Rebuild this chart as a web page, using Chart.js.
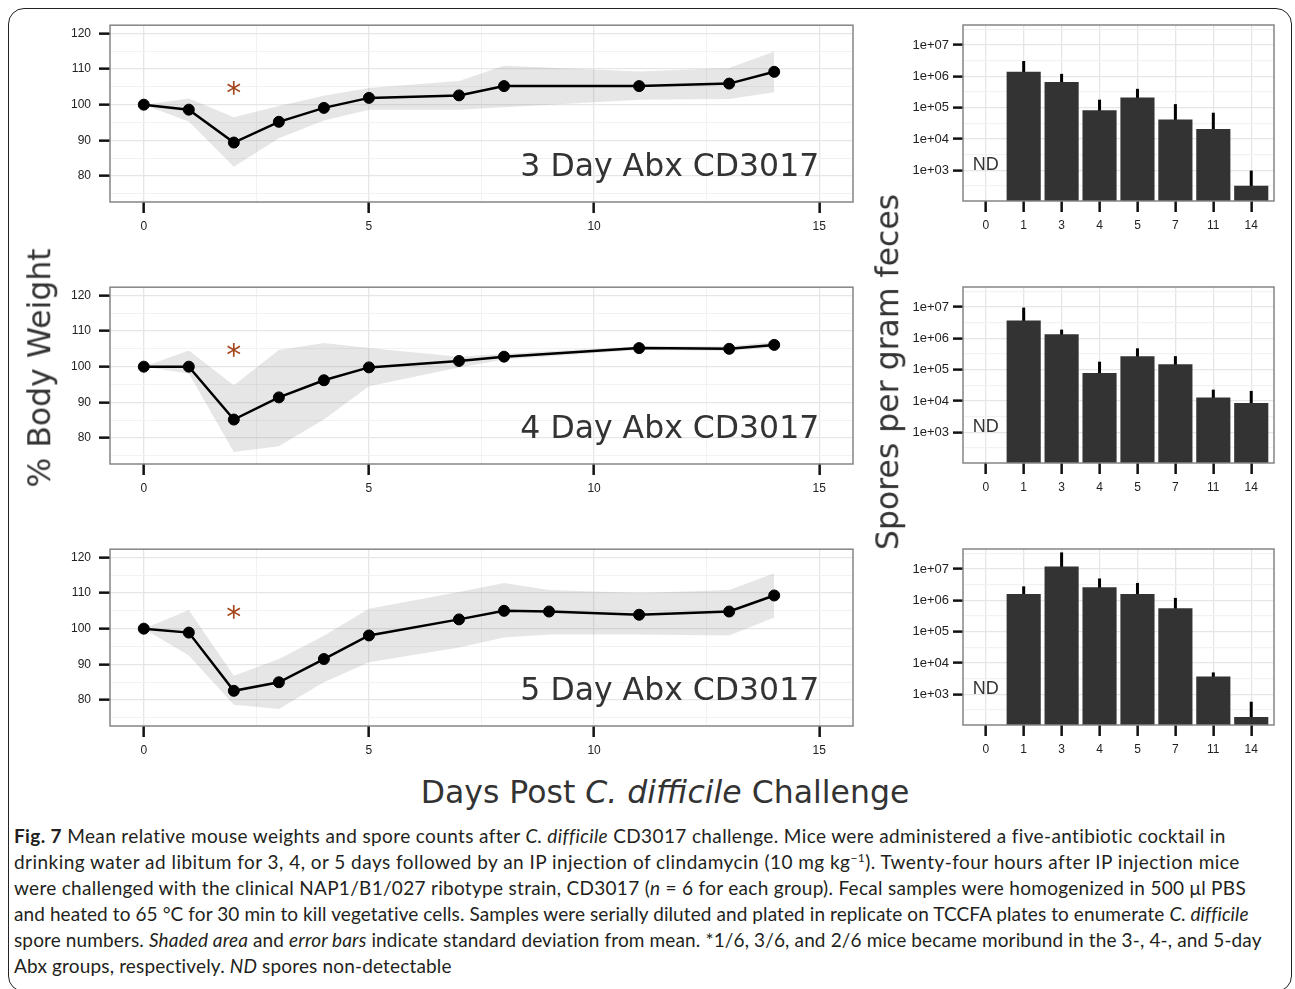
<!DOCTYPE html>
<html><head><meta charset="utf-8">
<script src="https://cdn.jsdelivr.net/npm/chart.js@4"></script>
<style>
html,body{margin:0;padding:0;background:#fff;}
body{width:1295px;height:989px;position:relative;overflow:hidden;}
#frame{position:absolute;left:8px;top:8px;width:1284px;height:984px;border:1.5px solid #222;border-radius:16px;box-sizing:border-box;}
canvas{position:absolute;}
.title{position:absolute;font-family:"DejaVu Sans";font-size:31.5px;color:#333;white-space:nowrap;line-height:1;}
.rot{transform:translate(-50%,-50%) rotate(-90deg);}
#caption{position:absolute;left:14px;top:823px;font-family:Lato;font-size:19px;line-height:26px;color:#231f20;}
#caption div{white-space:nowrap;display:table;}
#caption sup{font-size:12px;line-height:0;vertical-align:7px;}
</style>
</head><body>
<div id="frame"></div>
<canvas id="l3"></canvas><canvas id="l4"></canvas><canvas id="l5"></canvas>
<canvas id="b3"></canvas><canvas id="b4"></canvas><canvas id="b5"></canvas>
<div class="title rot" style="left:40px;top:368px;">% Body Weight</div>
<div class="title rot" style="left:888px;top:372px;">Spores per gram feces</div>
<div class="title" style="left:665px;top:793px;transform:translate(-50%,-50%);">Days Post <i>C. difficile</i> Challenge</div>
<div id="caption">
<div data-end="1225"><b>Fig. 7</b> Mean relative mouse weights and spore counts after <i>C. difficile</i> CD3017 challenge. Mice were administered a five-antibiotic cocktail in</div>
<div data-end="1240">drinking water ad libitum for 3, 4, or 5 days followed by an IP injection of clindamycin (10 mg kg<sup>−1</sup>). Twenty-four hours after IP injection mice</div>
<div data-end="1246">were challenged with the clinical NAP1/B1/027 ribotype strain, CD3017 (<i>n</i> = 6 for each group). Fecal samples were homogenized in 500 μl PBS</div>
<div data-end="1248">and heated to 65 °C for 30 min to kill vegetative cells. Samples were serially diluted and plated in replicate on TCCFA plates to enumerate <i>C. difficile</i></div>
<div data-end="1262">spore numbers. <i>Shaded area</i> and <i>error bars</i> indicate standard deviation from mean. *1/6, 3/6, and 2/6 mice became moribund in the 3-, 4-, and 5-day</div>
<div data-end="452">Abx groups, respectively. <i>ND</i> spores non-detectable</div>
</div>
<script>
// ---- data: body weight (% of day 0) ----
const days3 = [0,1,2,3,4,5,7,8,11,13,14];
const weight3 = [100,98.6,89.4,95.2,99.1,101.9,102.6,105.2,105.2,105.9,109.2];
const upper3 = [100,101.7,96.5,99.6,102.5,104.7,106.6,110.9,109.3,110.3,114.9];
const lower3 = [100,95.3,82.6,90.6,95.6,98.6,98.6,99.3,101.4,101.6,103.5];

const days4 = [0,1,2,3,4,5,7,8,11,13,14];
const weight4 = [100,100,85.2,91.4,96.2,99.8,101.6,102.8,105.2,105.0,106.1];
const upper4 = [100,104.5,94.8,104.7,106.6,105.2,102.8,103.6,105.7,105.7,107.0];
const lower4 = [100,98.1,76.1,77.7,85.2,94.5,99.8,102.0,104.7,104.4,105.4];

const days5 = [0,1,2,3,4,5,7,8,9,11,13,14];
const weight5 = [100,98.9,82.6,85.0,91.5,98.1,102.6,105.0,104.8,103.9,104.8,109.3];
const upper5 = [100,105.2,86.8,91.5,98.0,105.6,110.3,112.8,110.8,110.0,110.8,115.5];
const lower5 = [100,92.5,78.7,77.5,85.0,90.6,94.7,97.5,98.4,98.4,98.1,103.1];

const dayTicks = [0,5,10,15];
const weightTicks = [80,90,100,110,120];

// ---- data: spores per gram feces ----
const sporeDays = ['0','1','3','4','5','7','11','14'];
const spores3 = [null,1.4e6,6.6e5,8.3e4,2.1e5,4.2e4,2.1e4,320];
const sporesSD3 = [null,3.1e6,1.2e6,1.8e5,4.0e5,1.3e5,6.9e4,980];
const spores4 = [null,3.7e6,1.35e6,7.8e4,2.7e5,1.5e5,1.3e4,8.7e3];
const sporesSD4 = [null,9.6e6,1.9e6,1.8e5,4.8e5,2.7e5,2.3e4,2.1e4];
const spores5 = [null,1.6e6,1.2e7,2.6e6,1.6e6,5.6e5,3.7e3,190];
const sporesSD5 = [null,2.8e6,3.4e7,5.0e6,3.6e6,1.2e6,5.0e3,580];
const sporeTicks = [1e3,1e4,1e5,1e6,1e7];
const sporeTickLabels = ['1e+03','1e+04','1e+05','1e+06','1e+07'];

// fit caption lines to the reference line lengths
document.querySelectorAll('#caption div').forEach(d => {
  const target = +d.dataset.end - 14;
  const w = d.getBoundingClientRect().width;
  const n = d.textContent.length;
  d.style.letterSpacing = ((target - w) / n).toFixed(3) + 'px';
});

Chart.defaults.font.family = 'Liberation Sans';

const TICKC = '#111';
const panelBorder = {
  id:'panelBorder',
  afterDraw(chart){
    const a = chart.chartArea, c = chart.ctx;
    c.save(); c.strokeStyle = '#858585'; c.lineWidth = 1.5;
    c.strokeRect(a.left, a.top, a.right-a.left, a.bottom-a.top);
    c.restore();
  }
};

function isMult(v, m){ return Math.abs(v/m - Math.round(v/m)) < 1e-6; }

function makeLine(id, panelTop, days, mean, up, lo, label){
  const cv = document.getElementById(id);
  const L = 40, W = 830, padTop = 15, axisH = 40, panelH = 177;
  cv.width = W; cv.height = padTop + panelH + axisH;
  cv.style.left = L + 'px'; cv.style.top = (panelTop - padTop) + 'px';
  const pts = ys => days.map((d,i) => ({x:d, y:ys[i]}));
  const annot = {
    id:'annot',
    afterDatasetsDraw(chart){
      const c = chart.ctx, xs = chart.scales.x, ys = chart.scales.y;
      c.save();
      c.font = '31.5px "DejaVu Sans"'; c.fillStyle = '#333';
      c.textAlign = 'right'; c.textBaseline = 'alphabetic';
      c.fillText(label, xs.getPixelForValue(15), ys.getPixelForValue(80));
      c.font = '30px "DejaVu Sans"'; c.fillStyle = '#A3461C'; c.textAlign = 'center';
      c.fillText('*', xs.getPixelForValue(2), ys.getPixelForValue(105) + 0.555*30);
      c.restore();
    }
  };
  new Chart(cv, {
    type:'line',
    data:{datasets:[
      {data:pts(mean), borderColor:'#000', borderWidth:2.5, pointRadius:5.5, pointBackgroundColor:'#000', pointBorderColor:'#000', pointBorderWidth:1, tension:0, fill:false, order:0},
      {data:pts(up), borderColor:'rgba(0,0,0,0)', borderWidth:0, pointRadius:0, fill:'+1', backgroundColor:'rgba(128,128,128,0.2)', order:1},
      {data:pts(lo), borderColor:'rgba(0,0,0,0)', borderWidth:0, pointRadius:0, fill:false, order:2}
    ]},
    options:{
      responsive:false, animation:false, devicePixelRatio:1,
      layout:{padding:{top:padTop, right:17, left:0, bottom:0}},
      plugins:{legend:{display:false}, tooltip:{enabled:false}},
      scales:{
        x:{type:'linear', min:-0.75, max:15.75,
          afterBuildTicks:s => { s.ticks = [0,2.5,5,7.5,10,12.5,15].map(v => ({value:v})); },
          afterFit:s => { s.height = axisH; },
          ticks:{callback:v => dayTicks.includes(v) ? String(v) : '', font:{size:12}, color:'#222', padding:6, maxRotation:0, autoSkip:false},
          grid:{color:c => (c.tick && isMult(c.tick.value,5)) ? '#e6e6e6' : '#f2f2f2', lineWidth:c => (c.tick && isMult(c.tick.value,5)) ? 1.3 : 1,
            tickColor:c => (c.tick && isMult(c.tick.value,5)) ? TICKC : 'rgba(0,0,0,0)', tickWidth:2.5, tickLength:11},
          border:{display:false}},
        y:{type:'linear', min:72.75, max:122.25,
          afterBuildTicks:s => { s.ticks = [75,80,85,90,95,100,105,110,115,120].map(v => ({value:v})); },
          afterFit:s => { s.width = 110 - L; },
          ticks:{callback:v => weightTicks.includes(v) ? String(v) : '', font:{size:12}, color:'#222', padding:8, autoSkip:false},
          grid:{color:c => (c.tick && isMult(c.tick.value,10)) ? '#e6e6e6' : '#f2f2f2', lineWidth:c => (c.tick && isMult(c.tick.value,10)) ? 1.3 : 1,
            tickColor:c => (c.tick && isMult(c.tick.value,10)) ? TICKC : 'rgba(0,0,0,0)', tickWidth:2.5, tickLength:11},
          border:{display:false}}
      }
    },
    plugins:[panelBorder, annot]
  });
}

function makeBar(id, panelTop, vals, sds){
  const cv = document.getElementById(id);
  const L = 900, W = 390, padTop = 15, axisH = 40, panelH = 176;
  cv.width = W; cv.height = padTop + panelH + axisH;
  cv.style.left = L + 'px'; cv.style.top = (panelTop - padTop) + 'px';
  const errs = {
    id:'errs',
    beforeDatasetsDraw(chart){
      const c = chart.ctx, xs = chart.scales.x, ys = chart.scales.y, a = chart.chartArea;
      c.save(); c.strokeStyle = '#000'; c.lineWidth = 3;
      sds.forEach((s,i) => {
        if (s == null || vals[i] == null) return;
        const x = xs.getPixelForValue(i);
        c.beginPath(); c.moveTo(x, Math.min(a.bottom, ys.getPixelForValue(vals[i]) + 4)); c.lineTo(x, ys.getPixelForValue(s)); c.stroke();
      });
      c.restore();
    },
    afterDatasetsDraw(chart){
      const c = chart.ctx, xs = chart.scales.x, ys = chart.scales.y;
      c.save(); c.font = '18px "Liberation Sans"'; c.fillStyle = '#333';
      c.textAlign = 'center'; c.textBaseline = 'middle';
      vals.forEach((v,i) => { if (v == null) c.fillText('ND', xs.getPixelForValue(i), ys.getPixelForValue(1500)); });
      c.restore();
    }
  };
  const exps = [2.5,3,3.5,4,4.5,5,5.5,6,6.5,7,7.5];
  new Chart(cv, {
    type:'bar',
    data:{datasets:[{data:sporeDays.map((d,i) => ({x:i, y:vals[i]})), backgroundColor:'#333333', borderWidth:0, barPercentage:0.9, categoryPercentage:1}]},
    options:{
      responsive:false, animation:false, devicePixelRatio:1,
      layout:{padding:{top:padTop, right:16, left:0, bottom:0}},
      plugins:{legend:{display:false}, tooltip:{enabled:false}},
      scales:{
        x:{type:'linear', min:-0.6, max:7.6, offset:false,
          afterBuildTicks:s => { s.ticks = sporeDays.map((d,i) => ({value:i})); },
          afterFit:s => { s.height = axisH; },
          ticks:{callback:v => sporeDays[v], font:{size:12}, color:'#222', padding:6, maxRotation:0, autoSkip:false},
          grid:{offset:false, color:'#e6e6e6', lineWidth:1.3, tickColor:TICKC, tickWidth:2.5, tickLength:11},
          border:{display:false}},
        y:{type:'logarithmic', min:Math.pow(10,2.02), max:Math.pow(10,7.64),
          afterBuildTicks:s => { s.ticks = exps.map(e => ({value:Math.pow(10,e)})); },
          afterFit:s => { s.width = 963 - L; },
          ticks:{callback:v => { const k = sporeTicks.findIndex(t => Math.abs(t/v - 1) < 1e-6); return k >= 0 ? sporeTickLabels[k] : ''; }, font:{size:13}, color:'#222', padding:4, autoSkip:false},
          grid:{color:c => { const e = c.tick ? Math.log10(c.tick.value) : 0; return isMult(e,1) ? '#e6e6e6' : '#f2f2f2'; },
            lineWidth:1.2,
            tickColor:c => { const e = c.tick ? Math.log10(c.tick.value) : 0; return isMult(e,1) ? TICKC : 'rgba(0,0,0,0)'; },
            tickWidth:2.5, tickLength:10},
          border:{display:false}}
      }
    },
    plugins:[panelBorder, errs]
  });
}

makeLine('l3', 25, days3, weight3, upper3, lower3, '3 Day Abx CD3017');
makeLine('l4', 287, days4, weight4, upper4, lower4, '4 Day Abx CD3017');
makeLine('l5', 549, days5, weight5, upper5, lower5, '5 Day Abx CD3017');
makeBar('b3', 25, spores3, sporesSD3);
makeBar('b4', 287, spores4, sporesSD4);
makeBar('b5', 549, spores5, sporesSD5);
</script>
</body></html>
